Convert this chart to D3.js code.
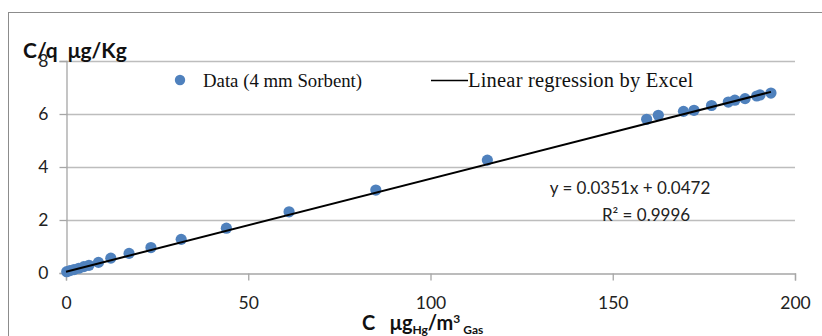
<!DOCTYPE html>
<html>
<head>
<meta charset="utf-8">
<script src="https://cdn.jsdelivr.net/npm/d3@7"></script>
<style>
  html, body { margin: 0; padding: 0; background: #fff; }
  svg { display: block; }
  .pre { white-space: pre; }
</style>
</head>
<body>
<svg id="chart" width="822" height="336"></svg>
<script>
// Measured concentration in gas (µg Hg / m³) and C/q ratio (µg/Kg)
const concGas = [0.2, 1.1, 2.2, 3.5, 4.9, 6.3, 8.9, 12.3, 17.3, 23.3, 31.6, 44.0, 61.2, 85.0, 115.6,
                 159.3, 162.5, 169.4, 172.3, 177.1, 181.7, 183.5, 186.3, 189.5, 190.4, 193.4];
const ratioCq = [0.05, 0.09, 0.13, 0.18, 0.24, 0.29, 0.40, 0.56, 0.74, 0.96, 1.27, 1.69, 2.31, 3.13, 4.26,
                 5.80, 5.95, 6.10, 6.14, 6.32, 6.45, 6.52, 6.58, 6.68, 6.72, 6.79];

// Linear fit reported for the data
const fitSlope = 0.0351;
const fitIntercept = 0.0472;
const fitR2 = 0.9996;

const xTicks = [0, 50, 100, 150, 200];
const yTicks = [0, 2, 4, 6, 8];

const seriesLabel = "Data (4 mm Sorbent)";
const fitLabel = "Linear regression by Excel";

const svg = d3.select("#chart");
const sans = "Lato, 'Open Sans', sans-serif";
const serif = "'Liberation Serif', 'DejaVu Serif', serif";

const x = d3.scaleLinear().domain([0, 200]).range([66, 795]);
const y = d3.scaleLinear().domain([0, 8]).range([273, 61]);

// outer frame of the chart area
svg.append("rect")
  .attr("x", 8.5).attr("y", 12.5)
  .attr("width", 830).attr("height", 340)
  .attr("fill", "none").attr("stroke", "#8c8c8c").attr("stroke-width", 1);

// horizontal gridlines
svg.append("g").selectAll("line")
  .data(yTicks.filter(d => d !== 0))
  .join("line")
  .attr("x1", x(0)).attr("x2", x(200))
  .attr("y1", d => Math.round(y(d)) + 0.5).attr("y2", d => Math.round(y(d)) + 0.5)
  .attr("stroke", "#bdbdbd").attr("stroke-width", 1.3);

// y axis
const yAxis = svg.append("g")
  .attr("transform", `translate(${x(0) + 0.5},0)`)
  .call(d3.axisLeft(y).tickValues(yTicks).tickSize(7).tickPadding(11).tickFormat(d3.format("d")));
yAxis.select(".domain").attr("stroke", "#a6a6a6").attr("stroke-width", 1.3);
yAxis.selectAll(".tick line").attr("stroke", "#a6a6a6").attr("stroke-width", 1.3);
yAxis.selectAll(".tick text")
  .attr("font-family", sans).attr("font-size", 17.5).attr("fill", "#222");

// x axis
const xAxis = svg.append("g")
  .attr("transform", `translate(0,${Math.round(y(0)) + 0.5})`)
  .call(d3.axisBottom(x).tickValues(xTicks).tickSize(7).tickPadding(16).tickFormat(d3.format("d")));
xAxis.select(".domain").attr("stroke", "#a6a6a6").attr("stroke-width", 1.3);
xAxis.selectAll(".tick line").attr("stroke", "#a6a6a6").attr("stroke-width", 1.3);
xAxis.selectAll(".tick text")
  .attr("font-family", sans).attr("font-size", 17.5).attr("fill", "#222");

// data points
const pts = concGas.map((c, i) => ({ c, r: ratioCq[i] }));
svg.append("g").selectAll("circle")
  .data(pts)
  .join("circle")
  .attr("cx", d => x(d.c)).attr("cy", d => y(d.r))
  .attr("r", 5.6)
  .attr("fill", "#4f81bd");

// regression line over the measured range
const xMax = d3.max(concGas);
const fitLine = [0, xMax].map(c => ({ c, r: fitSlope * c + fitIntercept }));
svg.append("path")
  .datum(fitLine)
  .attr("d", d3.line().x(d => x(d.c)).y(d => y(d.r)))
  .attr("fill", "none").attr("stroke", "#000").attr("stroke-width", 2);

// legend
const legend = svg.append("g");
legend.append("circle").attr("cx", 180).attr("cy", 80).attr("r", 5.2).attr("fill", "#4f81bd");
legend.append("text").attr("x", 203).attr("y", 86.5)
  .attr("font-family", serif).attr("font-size", 18.8).attr("fill", "#111")
  .text(seriesLabel);
legend.append("line").attr("x1", 431).attr("x2", 468).attr("y1", 80.5).attr("y2", 80.5)
  .attr("stroke", "#000").attr("stroke-width", 1.6);
legend.append("text").attr("x", 468).attr("y", 86.5)
  .attr("font-family", serif).attr("font-size", 20.5).attr("letter-spacing", 0.2).attr("fill", "#111")
  .text(fitLabel);

// fit equation
const eq = svg.append("g").attr("font-family", sans).attr("font-size", 17).attr("fill", "#222")
  .attr("text-anchor", "middle");
eq.append("text").attr("x", 630).attr("y", 194)
  .text(`y = ${fitSlope}x + ${fitIntercept}`);
eq.append("text").attr("x", 646).attr("y", 221)
  .text(`R² = ${fitR2}`);

// axis titles
svg.append("text").attr("class", "pre").attr("x", 23).attr("y", 58)
  .attr("font-family", sans).attr("font-size", 21).attr("font-weight", "bold").attr("fill", "#111")
  .text("C/q  μg/Kg");

const xt = svg.append("text").attr("class", "pre").attr("x", 362).attr("y", 330)
  .attr("font-family", sans).attr("font-weight", "bold").attr("fill", "#111").attr("font-size", 20);
xt.append("tspan").text("C   μg");
xt.append("tspan").attr("font-size", 12).attr("dy", 4).text("Hg");
xt.append("tspan").attr("dy", -4).text("/m");
xt.append("tspan").attr("font-size", 12).attr("dy", -7).text("3");
xt.append("tspan").attr("font-size", 12).attr("dy", 11).text(" Gas");
</script>
</body>
</html>
